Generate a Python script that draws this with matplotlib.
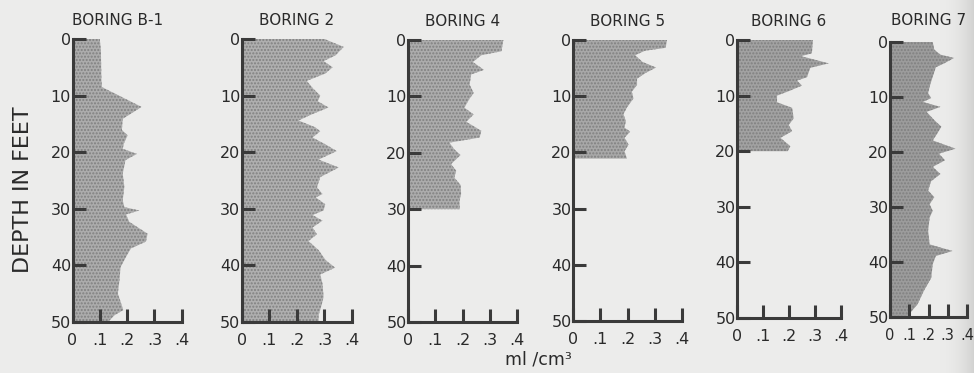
import numpy as np
import matplotlib.pyplot as plt

# profiles: depth (ft) and ml/cm3
titles = ['BORING B-1', 'BORING 2', 'BORING 4', 'BORING 5', 'BORING 6', 'BORING 7']

b1_depth = [0, 2.0, 7.3, 8.5, 12.0, 14.1, 16.1, 17.0, 18.5, 19.4, 20.3, 21.4, 23.8, 26.1,
            28.5, 29.7, 30.3, 31.0, 32.3, 34.4, 35.8, 37.0, 38.5, 40.3, 42.6, 45.0, 46.4,
            47.9, 48.8, 50]
b1_value = [0.10, 0.104, 0.106, 0.108, 0.253, 0.184, 0.181, 0.202, 0.188, 0.184, 0.236,
            0.194, 0.184, 0.19, 0.184, 0.19, 0.245, 0.196, 0.208, 0.275, 0.269, 0.214,
            0.196, 0.176, 0.172, 0.166, 0.176, 0.186, 0.154, 0.13]

b2_depth = [0, 1.4, 2.9, 3.9, 5.0, 6.1, 7.4, 8.8, 10.0, 11.0, 12.1, 13.3, 14.4, 15.6, 16.3,
            17.4, 18.6, 19.8, 21.3, 22.7, 24.4, 26.2, 27.4, 28.0, 29.2, 30.3, 31.1, 32.1,
            33.3, 34.5, 35.7, 37.3, 39.1, 40.4, 41.6, 43.2, 45.6, 47.3, 48.8, 50]
b2_value = [0.30, 0.37, 0.34, 0.297, 0.33, 0.303, 0.236, 0.26, 0.285, 0.276, 0.315, 0.255,
            0.206, 0.267, 0.285, 0.257, 0.303, 0.345, 0.279, 0.352, 0.285, 0.273, 0.293,
            0.269, 0.303, 0.297, 0.257, 0.293, 0.257, 0.273, 0.242, 0.279, 0.305, 0.339,
            0.285, 0.293, 0.297, 0.288, 0.279, 0.279]

b4_depth = [0, 2.0, 2.7, 3.9, 5.3, 6.1, 7.9, 9.4, 10.4, 12.0, 13.2, 14.5, 16.1, 17.3, 18.2,
            19.4, 20.4, 22.0, 23.2, 24.4, 25.7, 27.3, 28.5, 30]
b4_value = [0.35, 0.343, 0.269, 0.238, 0.279, 0.232, 0.226, 0.241, 0.226, 0.207, 0.241,
            0.214, 0.269, 0.263, 0.152, 0.17, 0.193, 0.158, 0.177, 0.17, 0.193, 0.195,
            0.189, 0.19]

b5_depth = [0, 1.4, 1.9, 2.7, 3.9, 4.9, 5.9, 6.9, 8.0, 9.2, 10.4, 12.0, 13.2, 14.4, 15.6,
            16.3, 17.4, 18.6, 19.8, 21.1]
b5_value = [0.345, 0.34, 0.265, 0.228, 0.255, 0.305, 0.265, 0.235, 0.235, 0.216, 0.222,
            0.198, 0.185, 0.194, 0.189, 0.21, 0.189, 0.204, 0.189, 0.198]

b6_depth = [0, 2.4, 2.9, 4.2, 5.0, 6.7, 7.3, 8.2, 9.2, 10.0, 11.2, 12.2, 14.1, 15.3, 16.4,
            17.6, 19.1, 20.0]
b6_value = [0.292, 0.288, 0.246, 0.353, 0.282, 0.269, 0.231, 0.25, 0.199, 0.154, 0.154,
            0.212, 0.218, 0.199, 0.212, 0.167, 0.205, 0.195]

b7_depth = [0, 1.4, 2.3, 2.9, 3.8, 4.6, 6.3, 8.1, 9.3, 10.2, 10.9, 11.8, 12.7, 14.2, 15.4,
            16.6, 17.9, 19.4, 20.3, 21.5, 22.7, 24.0, 25.3, 27.0, 28.2, 29.5, 30.7, 31.9,
            34.3, 36.8, 38.0, 38.9, 40.4, 42.9, 45.3, 47.7, 50]
b7_value = [0.222, 0.23, 0.262, 0.333, 0.286, 0.238, 0.222, 0.206, 0.198, 0.214, 0.171,
            0.262, 0.19, 0.23, 0.267, 0.246, 0.222, 0.341, 0.254, 0.286, 0.222, 0.262,
            0.214, 0.198, 0.23, 0.206, 0.222, 0.206, 0.198, 0.206, 0.325, 0.238, 0.222,
            0.214, 0.175, 0.143, 0.087]

depths = [b1_depth, b2_depth, b4_depth, b5_depth, b6_depth, b7_depth]
values = [b1_value, b2_value, b4_value, b5_value, b6_value, b7_value]
depth_ticks = [0, 10, 20, 30, 40, 50]
value_ticks = [0, 0.1, 0.2, 0.3, 0.4]
value_labels = ['0', '.1', '.2', '.3', '.4']

W, H = 974, 373
bg = '#ececeb'
ink = '#3a3a3a'
fills = ['#acacac', '#afafaf', '#acacac', '#a8a8a8', '#a2a2a2', '#9c9c9c']

# pixel box of each panel (x of 0 and .4, y of depth 0 and 50)
lefts = [72.5, 241.7, 408, 573, 737, 890]
rights = [181.7, 352, 517, 682, 841, 967]
tops = [39, 39, 40, 40, 40, 42]
bottoms = [322, 322, 322, 321, 318, 317]

fig = plt.figure(figsize=(W / 100, H / 100), dpi=100, facecolor=bg)

# faint gutter shadow of the scanned page
shade = fig.add_axes([940 / W, 0, 34 / W, 1], zorder=0)
g = np.linspace(0, 1, 60) ** 2
lev = 0.925 - 0.10 * g
img = np.dstack([lev, lev, lev * 0.995]).repeat(2, axis=0)
shade.imshow(img, aspect='auto', extent=[0, 1, 0, 1], interpolation='bilinear')
shade.axis('off')

for i in range(6):
    l, r, t, b = lefts[i], rights[i], tops[i], bottoms[i]
    ax = fig.add_axes([l / W, 1 - b / H, (r - l) / W, (b - t) / H], zorder=2)
    ax.patch.set_visible(False)
    ax.fill_betweenx(depths[i], 0, values[i], facecolor=fills[i], edgecolor='#808080',
                     hatch='.....', linewidth=0, zorder=1)
    ax.set_xlim(0, 0.4)
    ax.set_ylim(50, 0)
    for s in ['top', 'right']:
        ax.spines[s].set_visible(False)
    for s in ['left', 'bottom']:
        ax.spines[s].set_color(ink)
        ax.spines[s].set_linewidth(2.2)
        ax.spines[s].set_zorder(3)
    ax.set_yticks(depth_ticks)
    ax.set_yticklabels([str(d) for d in depth_ticks])
    ax.set_xticks(value_ticks)
    ax.set_xticklabels(value_labels)
    ax.tick_params(axis='y', direction='in', length=9.5, width=2.2, color=ink, pad=1,
                   labelsize=11.5, labelcolor='#2a2a2a')
    ax.tick_params(axis='x', direction='in', length=9.5, width=2.2, color=ink, pad=8,
                   labelsize=11.5 if i < 5 else 10.5, labelcolor='#2a2a2a')
    ax.set_title(titles[i], loc='left' if i == 0 else 'center', pad=10 if i < 5 else 12,
                 fontsize=11, color='#2a2a2a')

fig.text(23.5 / W, 1 - 190 / H, 'DEPTH IN FEET', rotation=90, ha='center', va='center',
         fontsize=16, color='#2a2a2a')
fig.text(538 / W, 1 - 360 / H, 'ml /cm³', ha='center', va='center', fontsize=12.5,
         color='#2a2a2a')

fig.savefig('out.png', dpi=100, facecolor=bg)
